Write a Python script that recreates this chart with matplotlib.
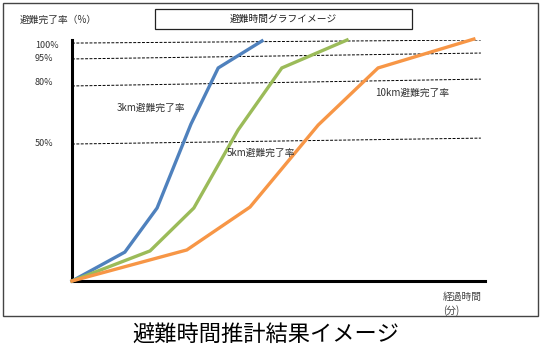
import matplotlib.pyplot as plt
from matplotlib.patches import Rectangle
from matplotlib.transforms import blended_transform_factory

plt.rcParams['font.family'] = ['Noto Sans CJK JP', 'DejaVu Sans']

# Schematic data (x: elapsed time, arbitrary units; y: visual height of curve)
x_3km = [0, 12.8, 20.6, 28.8, 35.4, 46.0]
y_3km = [0, 12.2, 30.8, 66.2, 89.9, 101.3]
x_5km = [0, 18.9, 29.5, 40.2, 50.8, 66.6]
y_5km = [0, 12.7, 30.8, 63.7, 89.9, 101.7]
x_10km = [0, 27.8, 43.1, 59.6, 74.1, 97.3]
y_10km = [0, 13.1, 31.2, 65.8, 89.9, 102.1]

# reference lines (the drawing is slightly tilted), left / right heights
ref_labels = ['100%', '95%', '80%', '50%']
ref_left = [100.4, 93.7, 82.3, 57.8]
ref_right = [101.7, 96.2, 85.2, 60.3]
ref_label_pos = [99.2, 93.7, 83.9, 58.2]

W, H = 541, 359
fig = plt.figure(figsize=(W / 100, H / 100), dpi=100)


def fx(px):
    return px / W


def fy(py):
    return 1 - py / H


# outer frame
fig.patches.append(Rectangle((fx(3), fy(316)), fx(535), 313 / H, transform=fig.transFigure,
                             fill=False, edgecolor='#444444', lw=1))
# title box
fig.patches.append(Rectangle((fx(155), fy(29)), fx(257), 20 / H, transform=fig.transFigure,
                             fill=False, edgecolor='#222222', lw=0.9))
fig.text(fx(283), fy(18.5), '避難時間グラフイメージ', ha='center', va='center', fontsize=7, color='#222222')

ax = fig.add_axes([fx(72), fy(281), fx(485 - 72), (281 - 40) / H])
ax.set_xlim(0, 100)
ax.set_ylim(0, 101.7)
for s in ['top', 'right']:
    ax.spines[s].set_visible(False)
for s in ['left', 'bottom']:
    ax.spines[s].set_linewidth(2.2)
    ax.spines[s].set_color('black')
ax.set_xticks([])
ax.set_yticks([])
ax.patch.set_alpha(0)

for yl, yr in zip(ref_left, ref_right):
    ax.plot([0, 99], [yl, yr], color='black', lw=0.7, linestyle=(0, (3, 1.5)), zorder=1)

lw = 2.4
ax.plot(x_3km, y_3km, color='#4f81bd', lw=lw, solid_joinstyle='miter', zorder=3, clip_on=False)
ax.plot(x_5km, y_5km, color='#9bbb59', lw=lw, solid_joinstyle='miter', zorder=3, clip_on=False)
ax.plot(x_10km, y_10km, color='#f79646', lw=lw, solid_joinstyle='miter', zorder=3, clip_on=False)

trans = blended_transform_factory(fig.transFigure, ax.transData)
for lab, yv in zip(ref_labels, ref_label_pos):
    ax.text(fx(35), yv, lab, transform=trans, ha='left', va='center', fontsize=6.5, color='#333333')

fig.text(fx(20), fy(20), '避難完了率（%）', ha='left', va='center', fontsize=7, color='#333333')
fig.text(fx(117), fy(108), '3km避難完了率', ha='left', va='center', fontsize=7, color='#333333')
fig.text(fx(227), fy(153), '5km避難完了率', ha='left', va='center', fontsize=7, color='#333333')
fig.text(fx(375), fy(93), '10km避難完了率', ha='left', va='center', fontsize=7, color='#333333')
fig.text(fx(443), fy(297), '経過時間', ha='left', va='center', fontsize=7, color='#444444')
fig.text(fx(443), fy(311), '(分)', ha='left', va='center', fontsize=7, color='#444444')

fig.text(fx(266), fy(334), '避難時間推計結果イメージ', ha='center', va='center', fontsize=16, color='black')

fig.savefig('out.png', dpi=100)
